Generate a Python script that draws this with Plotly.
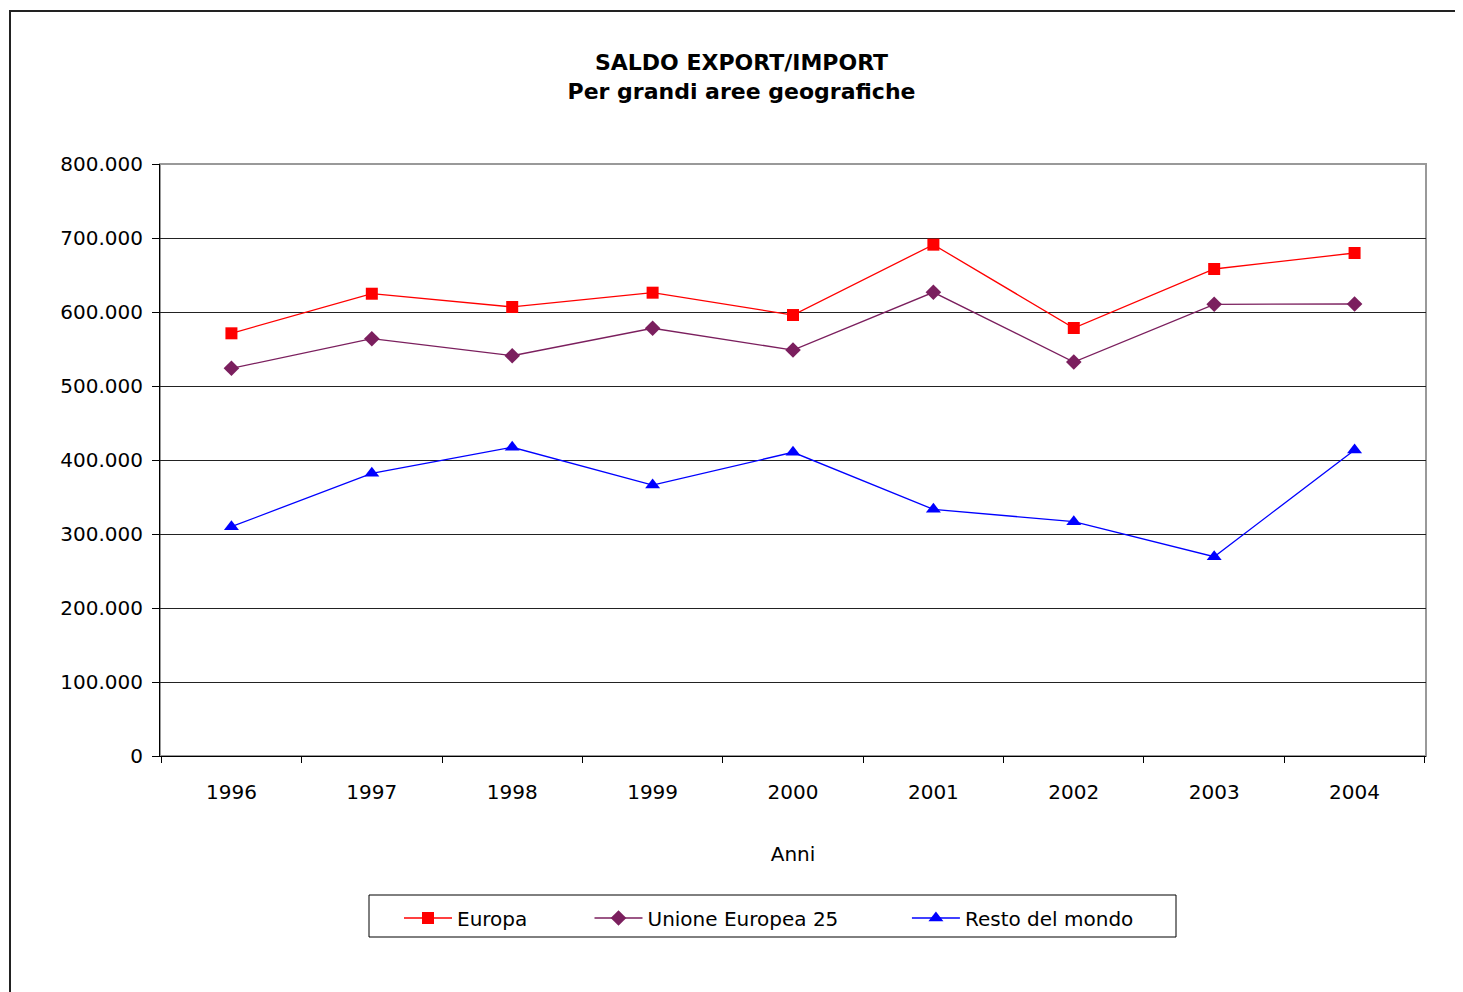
import plotly.graph_objects as go

anni = ["1996", "1997", "1998", "1999", "2000", "2001", "2002", "2003", "2004"]
europa = [571200, 624700, 606800, 626100, 595900, 691000, 578400, 658100, 679700]
ue25 = [523900, 563900, 540900, 578000, 548600, 626600, 532400, 610400, 610800]
resto = [309900, 382000, 417200, 366200, 410400, 333400, 316600, 269300, 413500]
nomi = ["Europa", "Unione Europea 25", "Resto del mondo"]

FONT = "DejaVu Sans"
NB = "\u00a0"

fig = go.Figure()
fig.add_trace(go.Scatter(x=anni, y=europa, name=nomi[0] + NB * 9, mode="lines+markers",
                         line=dict(color="#FF0000", width=1.3),
                         marker=dict(symbol="square", size=12, color="#FF0000")))
fig.add_trace(go.Scatter(x=anni, y=ue25, name=nomi[1] + NB * 10, mode="lines+markers",
                         line=dict(color="#7B1F5E", width=1.3),
                         marker=dict(symbol="diamond", size=12, color="#7B1F5E")))
fig.add_trace(go.Scatter(x=anni, y=resto, name=nomi[2], mode="lines+markers",
                         line=dict(color="#0000FF", width=1.3),
                         marker=dict(symbol="triangle-up", size=13, color="#0000FF")))

# figure coordinates (page has an 8px body margin)
W, H = 1455, 984
L, R, T, B = 152, 1418, 156, 748
PW, PH = R - L, B - T

def px(x):
    return (x - L) / PW

def py(y):
    return (B - y) / PH

fig.update_layout(
    width=W, height=H,
    margin=dict(l=L, r=W - R, t=T, b=H - B, autoexpand=False),
    paper_bgcolor="white", plot_bgcolor="white",
    separators=",.",
    font=dict(family=FONT, size=20, color="black"),
    title=dict(text="<b>SALDO EXPORT/IMPORT<br>Per grandi aree geografiche</b>",
               x=733.5 / W, xanchor="center", y=1 - 62 / H, yanchor="middle",
               font=dict(family=FONT, size=22, color="black")),
    xaxis=dict(type="category", showgrid=False, showline=True, linecolor="black", linewidth=1,
               ticks="outside", tickson="boundaries", ticklen=6, tickcolor="black",
               ticklabelstandoff=18,
               title=dict(text="Anni", standoff=43, font=dict(size=20)),
               tickfont=dict(size=20)),
    yaxis=dict(range=[0, 800000], dtick=100000, tickformat=",d",
               showgrid=True, gridcolor="#222222", gridwidth=1,
               showline=True, linecolor="black", linewidth=1,
               ticks="outside", ticklen=7, tickcolor="black", tickfont=dict(size=20),
               ticklabelstandoff=5, zeroline=False),
    legend=dict(orientation="h", x=px(391), xanchor="left",
                y=py(910), yanchor="middle", itemwidth=48,
                borderwidth=0, bgcolor="rgba(0,0,0,0)",
                font=dict(size=20)),
    showlegend=True,
    shapes=[
        dict(type="rect", xref="paper", yref="paper", x0=0, x1=1, y0=0, y1=1,
             line=dict(color="#999999", width=2), layer="below"),
        dict(type="rect", xref="paper", yref="paper",
             x0=px(2), x1=px(1470), y0=py(1000), y1=py(3),
             line=dict(color="#222222", width=2), layer="below"),
        dict(type="rect", xref="paper", yref="paper",
             x0=px(361), x1=px(1168), y0=py(929), y1=py(887),
             line=dict(color="black", width=1), layer="below"),
    ],
)

fig.write_html("out.html")
